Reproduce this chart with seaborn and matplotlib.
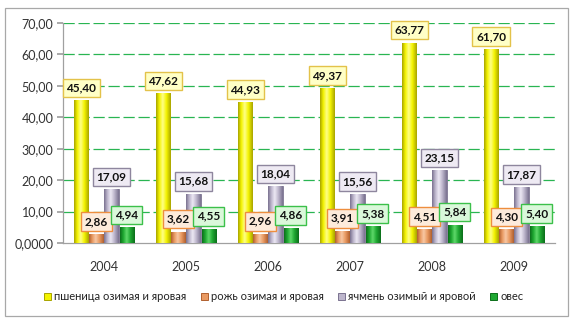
import numpy as np
import pandas as pd
import seaborn as sns
import matplotlib
matplotlib.use("Agg")
import matplotlib.pyplot as plt
from matplotlib.patches import Rectangle
from matplotlib.colors import LinearSegmentedColormap

# --- data -------------------------------------------------------------
years = ["2004", "2005", "2006", "2007", "2008", "2009"]
crops = ["пшеница озимая и яровая", "рожь озимая и яровая",
         "ячмень озимый и яровой", "овес"]
wheat = [45.40, 47.62, 44.93, 49.37, 63.77, 61.70]
rye = [2.86, 3.62, 2.96, 3.91, 4.51, 4.30]
barley = [17.09, 15.68, 18.04, 15.56, 23.15, 17.87]
oats = [4.94, 4.55, 4.86, 5.38, 5.84, 5.40]
y_ticks = [0, 10, 20, 30, 40, 50, 60, 70]
y_tick_labels = ["0,0000", "10,00", "20,00", "30,00", "40,00", "50,00", "60,00", "70,00"]

series = [wheat, rye, barley, oats]
df = pd.DataFrame({
    "year": [y for _ in crops for y in years],
    "crop": [c for c in crops for _ in years],
    "value": [v for s in series for v in s],
})

bar_colors = ["#F4F400", "#E99A62", "#BDB6CC", "#1FA832"]
bar_lights = ["#FFFF8A", "#F8C8A4", "#ECE8F4", "#5FD86A"]
bar_edges = ["#A8A400", "#B0602F", "#7A7290", "#0B6E1A"]
box_faces = ["#FFFFC6", "#FDEBDB", "#EEEAF3", "#DAF8DA"]
box_edges = ["#E3C24A", "#EE8E3E", "#8E869E", "#3CC04A"]

sns.set_theme(style="white")
plt.rcParams["font.family"] = ["Lato", "DejaVu Sans"]

fig = plt.figure(figsize=(5.78, 3.28), dpi=100)
ax = fig.add_axes([63 / 578, 1 - 243 / 328, (555 - 63) / 578, (243 - 23) / 328])

sns.barplot(data=df, x="year", y="value", hue="crop", order=years,
            hue_order=crops, palette=bar_colors, width=0.74, gap=0.06,
            saturation=1, ax=ax, legend=False, zorder=3)

# cylinder-like shading across each bar
for cont, base, light, edge in zip(ax.containers, bar_colors, bar_lights, bar_edges):
    cmap = LinearSegmentedColormap.from_list(
        "shade", [(0, edge), (0.22, base), (0.45, light), (0.7, base), (1, edge)])
    grad = np.linspace(0, 1, 64).reshape(1, -1)
    for patch in cont:
        x0, w, h = patch.get_x(), patch.get_width(), patch.get_height()
        im = ax.imshow(grad, cmap=cmap, aspect="auto", extent=[x0, x0 + w, 0, h],
                       origin="lower", zorder=3.5, interpolation="bilinear")
        im.set_clip_path(patch)
        patch.set_edgecolor(edge)
        patch.set_linewidth(0.6)

for cont, fc, ec, vals in zip(ax.containers, box_faces, box_edges, series):
    ax.bar_label(cont, labels=[f"{v:.2f}".replace(".", ",") for v in vals],
                 padding=5, fontsize=8.5, fontweight="bold", color="#111111",
                 bbox=dict(boxstyle="square,pad=0.32", fc=fc, ec=ec, lw=1.0),
                 zorder=5)

ax.set_ylim(0, 70)
ax.set_xlim(-0.5, 5.5)
ax.set_yticks(y_ticks)
ax.set_yticklabels(y_tick_labels, fontsize=9, color="#333333")
ax.set_xticks(range(len(years)))
ax.set_xticklabels(years, fontsize=9, color="#333333")
ax.tick_params(axis="x", length=0, pad=13)
ax.set_xticks(np.arange(-0.5, 6.0, 1.0), minor=True)
ax.tick_params(axis="x", which="minor", length=5, color="#A0A0A0", direction="out")
ax.tick_params(axis="y", length=4, color="#A0A0A0", direction="out", pad=3, left=True)
ax.set_xlabel("")
ax.set_ylabel("")

for y in y_ticks[1:]:
    ax.axhline(y, color="#29B552", lw=0.9, ls=(0, (9, 3)), zorder=1)

for side in ["top", "right"]:
    ax.spines[side].set_visible(False)
for side in ["left", "bottom"]:
    ax.spines[side].set_color("#A0A0A0")
    ax.spines[side].set_linewidth(0.9)

handles = [Rectangle((0, 0), 1, 1, fc=c, ec=e, lw=0.7) for c, e in zip(bar_colors, bar_edges)]
fig.legend(handles, crops, loc="center", bbox_to_anchor=(284 / 578, 1 - 297 / 328),
           ncol=4, frameon=False, fontsize=8, handlelength=0.6, handleheight=0.6,
           handletextpad=0.3, columnspacing=1.3, labelcolor="#222222")

fig.patches.append(Rectangle((5 / 578, 1 - 316 / 328), (568 - 5) / 578, (316 - 8) / 328,
                             transform=fig.transFigure, fill=False,
                             ec="#A8A8A8", lw=0.9))

fig.savefig("out.png", dpi=100)
